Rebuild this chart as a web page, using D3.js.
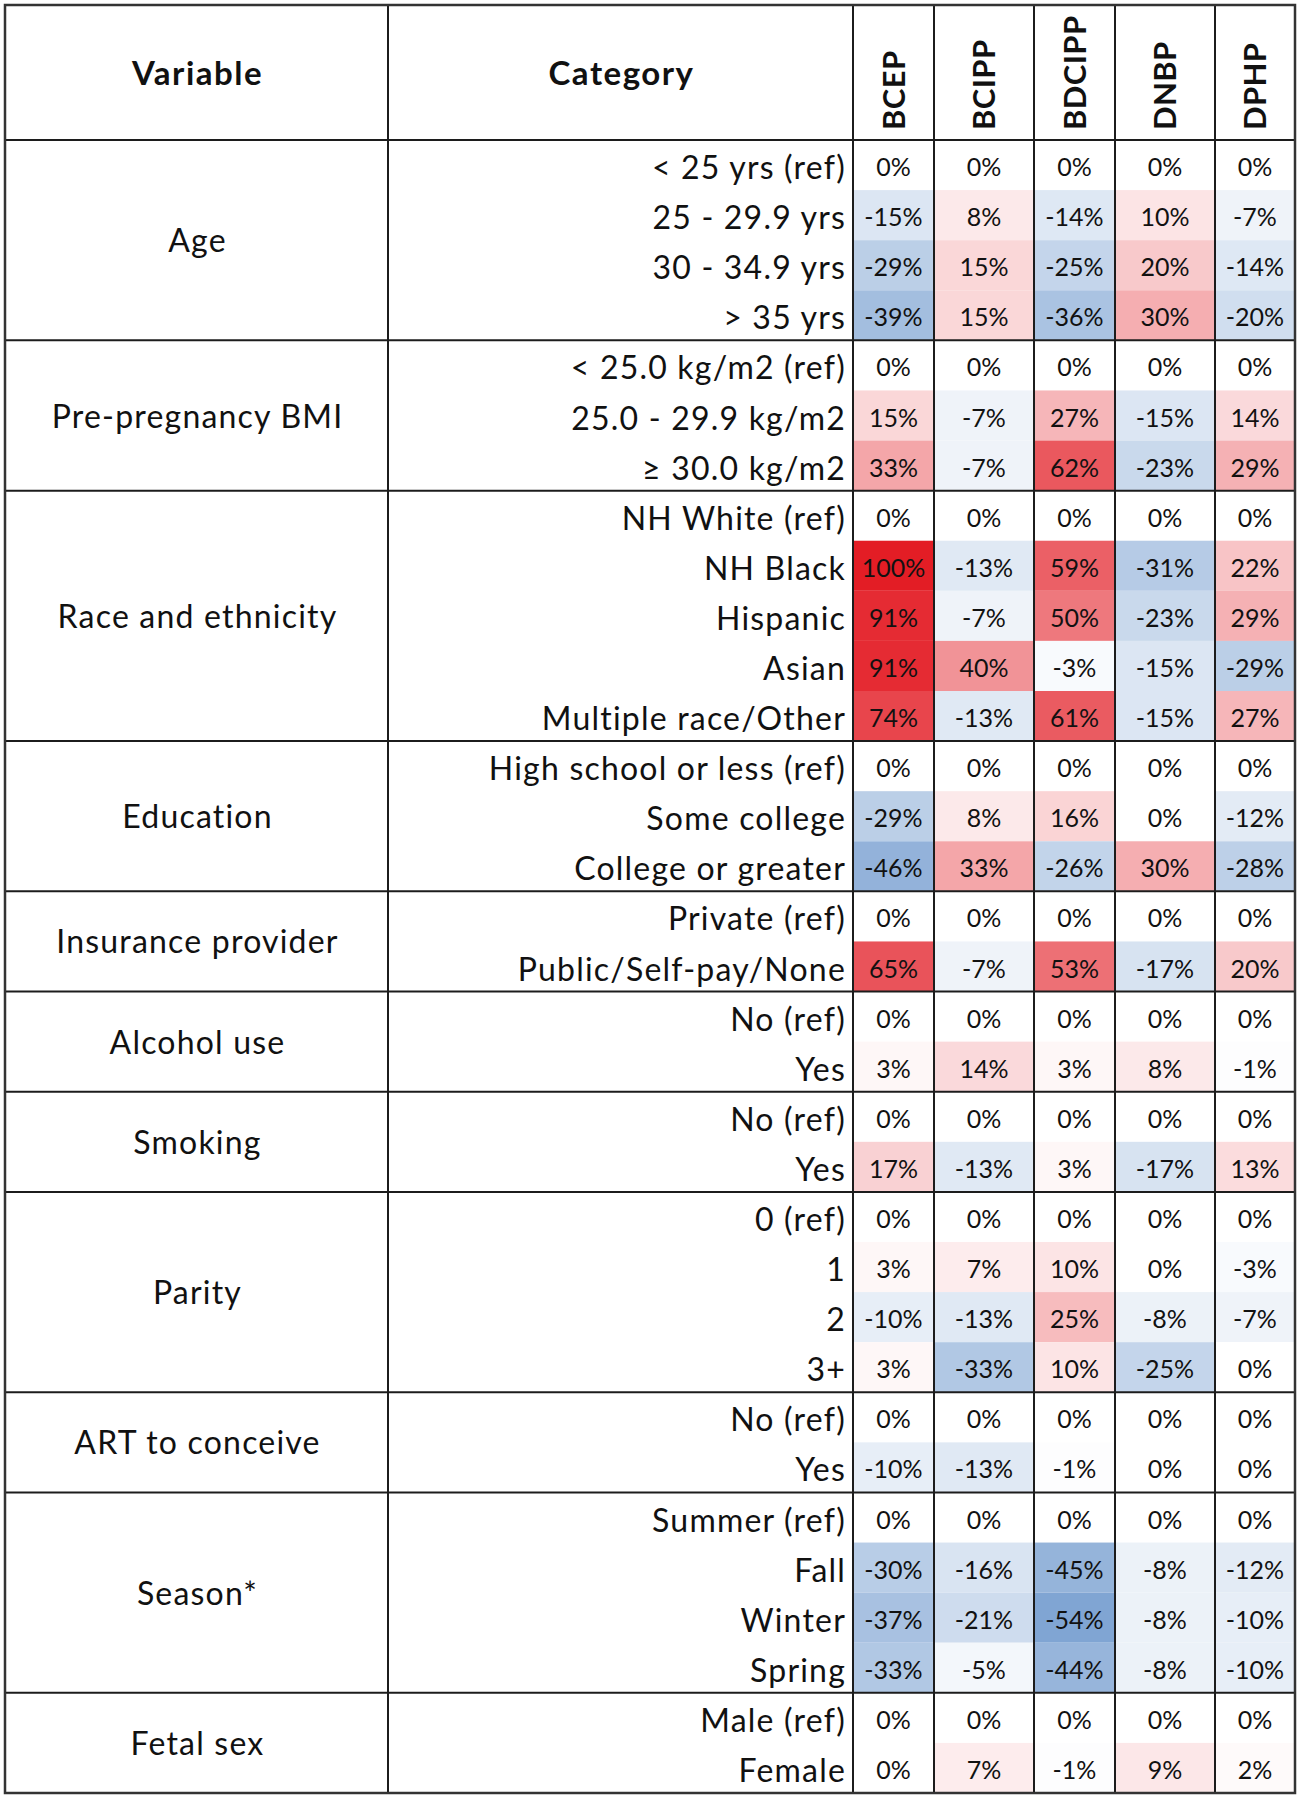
<!DOCTYPE html>
<html>
<head>
<meta charset="utf-8">
<script src="https://cdn.jsdelivr.net/npm/d3@7"></script>
<style>
  html, body { margin: 0; padding: 0; background: #ffffff; }
  svg { display: block; }
  text { font-family: Lato, "Noto Sans", sans-serif; fill: #111; }
</style>
</head>
<body>
<svg id="chart" width="1302" height="1800"></svg>
<script>
// ---------- DATA ----------
const series = ["BCEP", "BCIPP", "BDCIPP", "DNBP", "DPHP"];

const variables = ["Age", "Pre-pregnancy BMI", "Race and ethnicity", "Education",
  "Insurance provider", "Alcohol use", "Smoking", "Parity", "ART to conceive",
  "Season*", "Fetal sex"];

const groupSizes = [4, 3, 5, 3, 2, 2, 2, 4, 2, 4, 2];

const categories = [
  "< 25 yrs (ref)", "25 - 29.9 yrs", "30 - 34.9 yrs", "> 35 yrs",
  "< 25.0 kg/m2 (ref)", "25.0 - 29.9 kg/m2", "\u2265 30.0 kg/m2",
  "NH White (ref)", "NH Black", "Hispanic", "Asian", "Multiple race/Other",
  "High school or less (ref)", "Some college", "College or greater",
  "Private (ref)", "Public/Self-pay/None",
  "No (ref)", "Yes",
  "No (ref)", "Yes",
  "0 (ref)", "1", "2", "3+",
  "No (ref)", "Yes",
  "Summer (ref)", "Fall", "Winter", "Spring",
  "Male (ref)", "Female"
];

const BCEP   = [0, -15, -29, -39,  0, 15, 33,  0, 100, 91, 91, 74,  0, -29, -46,  0, 65,  0, 3,  0, 17,  0, 3, -10, 3,  0, -10,  0, -30, -37, -33,  0, 0];
const BCIPP  = [0, 8, 15, 15,      0, -7, -7,  0, -13, -7, 40, -13, 0, 8, 33,     0, -7,  0, 14, 0, -13, 0, 7, -13, -33, 0, -13, 0, -16, -21, -5,  0, 7];
const BDCIPP = [0, -14, -25, -36,  0, 27, 62,  0, 59, 50, -3, 61,   0, 16, -26,   0, 53,  0, 3,  0, 3,   0, 10, 25, 10,  0, -1,  0, -45, -54, -44,  0, -1];
const DNBP   = [0, 10, 20, 30,     0, -15, -23, 0, -31, -23, -15, -15, 0, 0, 30,  0, -17, 0, 8,  0, -17, 0, 0, -8, -25,  0, 0,   0, -8, -8, -8,     0, 9];
const DPHP   = [0, -7, -14, -20,   0, 14, 29,  0, 22, 29, -29, 27,   0, -12, -28, 0, 20,  0, -1, 0, 13,  0, -3, -7, 0,   0, 0,   0, -12, -10, -10,  0, 2];

const valuesBySeries = { BCEP, BCIPP, BDCIPP, DNBP, DPHP };

// ---------- LAYOUT ----------
const tLeft = 5, tTop = 5, headerBottom = 140, tBottom = 1793;
const colWidths = [383, 465, 81, 100, 81, 100, 80];   // Variable, Category, then data columns
const edges = [tLeft, ...Array.from(d3.cumsum(colWidths)).map(v => v + tLeft)];
const tRight = edges[edges.length - 1];

const svg = d3.select("#chart");

const y = d3.scaleBand()
  .domain(d3.range(categories.length))
  .range([headerBottom, tBottom])
  .paddingInner(0);

const xStart = d3.scaleOrdinal().domain(series).range(edges.slice(2, 7));
const xWidth = d3.scaleOrdinal().domain(series).range(colWidths.slice(2));

const WHITE = "#ffffff", BLUE = "#5a8ac6", RED = "#e31d25";
const color = d3.scaleLinear()
  .domain([-70, 0, 62, 100])
  .range([BLUE, WHITE, d3.interpolateRgb(WHITE, RED)(0.74), RED])
  .clamp(true);

const fmt = v => `${v}%`;

// group boundaries
const groupStarts = [0, ...Array.from(d3.cumsum(groupSizes))];
const groups = variables.map((v, i) => ({ name: v, start: groupStarts[i], end: groupStarts[i + 1] }));

// ---------- CELLS ----------
const cells = [];
series.forEach(s => {
  valuesBySeries[s].forEach((v, i) => cells.push({ s, i, v }));
});

svg.append("g").selectAll("rect")
  .data(cells)
  .join("rect")
  .attr("x", d => xStart(d.s))
  .attr("y", d => y(d.i))
  .attr("width", d => xWidth(d.s))
  .attr("height", y.bandwidth())
  .attr("fill", d => color(d.v));

svg.append("g").selectAll("text")
  .data(cells)
  .join("text")
  .attr("x", d => xStart(d.s) + xWidth(d.s) / 2)
  .attr("y", d => y(d.i) + y.bandwidth() / 2 + 11)
  .attr("text-anchor", "middle")
  .attr("font-size", 25)
  .text(d => fmt(d.v));

// ---------- CATEGORY LABELS ----------
svg.append("g").selectAll("text")
  .data(categories)
  .join("text")
  .attr("x", edges[2] - 7)
  .attr("y", (d, i) => y(i) + y.bandwidth() / 2 + 14)
  .attr("text-anchor", "end")
  .attr("font-size", 32)
  .attr("letter-spacing", 1.2)
  .text(d => d);

// ---------- VARIABLE LABELS ----------
svg.append("g").selectAll("text")
  .data(groups)
  .join("text")
  .attr("x", (edges[0] + edges[1]) / 2 + 1)
  .attr("y", d => (y(d.start) + y(d.end - 1) + y.bandwidth()) / 2 + 12)
  .attr("text-anchor", "middle")
  .attr("font-size", 32)
  .attr("letter-spacing", 1.2)
  .text(d => d.name);

// ---------- HEADER ----------
const headerMid = (tTop + headerBottom) / 2;
svg.append("text")
  .attr("x", (edges[0] + edges[1]) / 2 + 1)
  .attr("y", headerMid + 12.5)
  .attr("text-anchor", "middle")
  .attr("font-size", 33)
  .attr("letter-spacing", 1.5)
  .attr("font-weight", "bold")
  .text("Variable");
svg.append("text")
  .attr("x", (edges[1] + edges[2]) / 2 + 1)
  .attr("y", headerMid + 12.5)
  .attr("text-anchor", "middle")
  .attr("font-size", 33)
  .attr("letter-spacing", 1.5)
  .attr("font-weight", "bold")
  .text("Category");

svg.append("g").selectAll("text")
  .data(series)
  .join("text")
  .attr("transform", d => `translate(${xStart(d) + xWidth(d) / 2 + 11},${headerBottom - 10}) rotate(-90)`)
  .attr("text-anchor", "start")
  .attr("font-size", 31)
  .attr("letter-spacing", 0.4)
  .attr("font-weight", "bold")
  .text(d => d);

// ---------- GRID LINES ----------
const grid = svg.append("g").attr("stroke", "#1c1c1c").attr("stroke-width", 2).attr("fill", "none");

grid.selectAll("line.v")
  .data(edges.slice(1, -1))
  .join("line")
  .attr("class", "v")
  .attr("x1", d => d).attr("x2", d => d)
  .attr("y1", tTop).attr("y2", tBottom);

const hLines = [headerBottom, ...groups.slice(0, -1).map(g => y(g.end))];
grid.selectAll("line.h")
  .data(hLines)
  .join("line")
  .attr("class", "h")
  .attr("x1", tLeft).attr("x2", tRight)
  .attr("y1", d => d).attr("y2", d => d);

grid.append("rect")
  .attr("x", tLeft).attr("y", tTop)
  .attr("width", tRight - tLeft)
  .attr("height", tBottom - tTop)
  .attr("stroke-width", 2.5)
  .attr("stroke", "#333");
</script>
</body>
</html>
